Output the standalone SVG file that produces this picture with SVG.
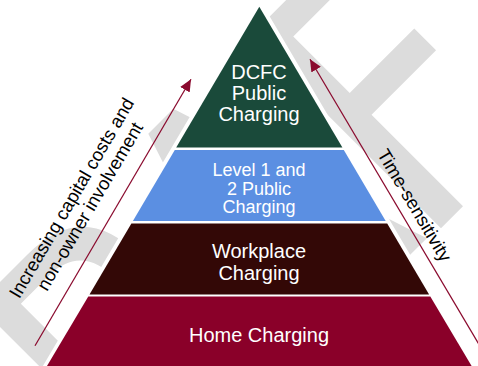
<svg xmlns="http://www.w3.org/2000/svg" width="478" height="366" viewBox="0 0 478 366">
  <style>
    .wm { font-family: "DejaVu Sans", sans-serif; font-size: 371.5px; fill: #dcdcdc; }
    .tier-label { font-family: "Liberation Sans", Arial, sans-serif; fill: #ffffff; text-anchor: middle; }
    .side-label { font-family: "Liberation Sans", Arial, sans-serif; font-size: 18.5px; fill: #000000; text-anchor: middle; }
    .conn { stroke: #8a0a2e; stroke-width: 1.25; fill: none; }
    .halo { fill: #ffffff; stroke: #ffffff; stroke-width: 8; stroke-linejoin: miter; }
  </style>
  <defs>
    <marker id="head" viewBox="0 0 12 11" refX="12" refY="5.5" markerWidth="12" markerHeight="11" markerUnits="userSpaceOnUse" orient="auto">
      <path d="M0,0 L12,5.5 L0,11 z" fill="#8a0a2e"/>
    </marker>
  </defs>

  <!-- diagonal watermark behind everything -->
  <g id="watermark" transform="rotate(-45) scale(0.85,1)">
    <text class="wm" x="-617.6 -308.4 -94.1 140.5 351.9" y="470.2 470.2 470.2 473.2 470.2">DRAFT</text>
  </g>

  <!-- white margin round the pyramid -->
  <polygon class="halo" points="259.3,6.7 44,372 474.6,372"/>

  <!-- pyramid tiers -->
  <g id="tier-dcfc">
    <polygon points="259.3,6.7 342.4,147.5 176.2,147.5" fill="#1a4a3a"/>
    <text class="tier-label" font-size="20" x="259" y="79">DCFC</text>
    <text class="tier-label" font-size="20" x="259" y="100">Public</text>
    <text class="tier-label" font-size="20" x="259" y="121">Charging</text>
  </g>
  <g id="tier-level12">
    <polygon points="174.8,150 343.8,150 385.7,221 132.9,221" fill="#5b8fe2"/>
    <text class="tier-label" font-size="18" x="259" y="176">Level 1 and</text>
    <text class="tier-label" font-size="18" x="259" y="194.5">2 Public</text>
    <text class="tier-label" font-size="18" x="259" y="213">Charging</text>
  </g>
  <g id="tier-workplace">
    <polygon points="131.4,223.5 387.2,223.5 429.1,294.5 89.5,294.5" fill="#330806"/>
    <text class="tier-label" font-size="20" x="259" y="258">Workplace</text>
    <text class="tier-label" font-size="20" x="259" y="279.5">Charging</text>
  </g>
  <g id="tier-home">
    <polygon points="88.3,296.5 430.3,296.5 474,370 44.6,370" fill="#8a0029"/>
    <text class="tier-label" font-size="20" x="259" y="342">Home Charging</text>
  </g>

  <!-- side arrows -->
  <g id="connectors">
    <line class="conn" x1="35" y1="345.7" x2="191" y2="79.3" marker-end="url(#head)"/>
    <line class="conn" x1="490" y1="363" x2="310" y2="59.3" marker-end="url(#head)"/>
  </g>

  <!-- side labels -->
  <g id="label-cost" transform="translate(113,212.9) rotate(-59.6)">
    <text class="side-label" x="-8" y="-37">Increasing capital costs and</text>
    <text class="side-label" x="-6" y="-17">non-owner involvement</text>
  </g>
  <g id="label-time" transform="translate(310,59.3) rotate(59.3)">
    <text class="side-label" x="179" y="-9">Time-sensitivity</text>
  </g>
</svg>
